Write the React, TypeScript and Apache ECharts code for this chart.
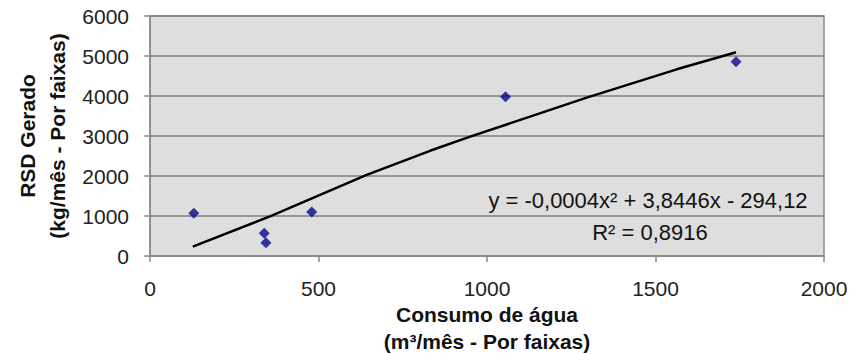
import React, { useEffect, useRef } from "react";
import * as echarts from "echarts";

const pointsX = [130, 339, 344, 480, 1055, 1739];
const pointsY = [1067, 567, 333, 1100, 3983, 4858];

const trendX = [127, 356, 643, 831, 950, 1296, 1563, 1739];
const trendY = [233, 990, 2030, 2630, 2983, 3958, 4667, 5092];

const equationText = "y = -0,0004x² + 3,8446x - 294,12";
const r2Text = "R² = 0,8916";

const xTitle = "Consumo de água\n(m³/mês - Por faixas)";
const yTitle = "RSD Gerado\n(kg/mês - Por faixas)";

const FONT = "'Liberation Sans', Arial, sans-serif";

export default function App() {
  const ref = useRef<HTMLDivElement>(null);
  useEffect(() => {
    if (!ref.current) return;
    const chart = echarts.init(ref.current, undefined, { renderer: "svg" });
    chart.setOption({
      animation: false,
      backgroundColor: "#ffffff",
      textStyle: { fontFamily: FONT },
      grid: {
        left: 150,
        right: 27,
        top: 16,
        bottom: 98,
        outerBoundsMode: "none",
        containLabel: false,
        show: true,
        backgroundColor: "#dedede",
        borderColor: "#8a8a8a",
        borderWidth: 1.5,
      },
      xAxis: {
        type: "value",
        min: 0,
        max: 2000,
        interval: 500,
        name: xTitle,
        nameLocation: "middle",
        nameGap: 45,
        nameMoveOverlap: false,
        nameTextStyle: { fontFamily: FONT, fontSize: 21, fontWeight: "bold", color: "#111", lineHeight: 27 },
        axisLine: { show: true, lineStyle: { color: "#8a8a8a", width: 1.5 } },
        axisTick: { show: true, length: 6, lineStyle: { color: "#8a8a8a", width: 1.5 } },
        axisLabel: { fontFamily: FONT, fontSize: 21, color: "#222", margin: 22, formatter: (v: number) => String(v) },
        splitLine: { show: false },
      },
      yAxis: {
        type: "value",
        min: 0,
        max: 6000,
        interval: 1000,
        name: yTitle,
        nameLocation: "middle",
        nameGap: 78,
        nameMoveOverlap: false,
        nameRotate: 90,
        nameTextStyle: { fontFamily: FONT, fontSize: 21, fontWeight: "bold", color: "#111", lineHeight: 30 },
        axisLine: { show: true, lineStyle: { color: "#8a8a8a", width: 1.5 } },
        axisTick: { show: true, length: 6, lineStyle: { color: "#8a8a8a", width: 1.5 } },
        axisLabel: { fontFamily: FONT, fontSize: 21, color: "#222", margin: 21, formatter: (v: number) => String(v) },
        splitLine: { show: true, lineStyle: { color: "#7f7f7f", width: 1.5 } },
      },
      series: [
        {
          type: "line",
          data: trendX.map((x, i) => [x, trendY[i]]),
          smooth: false,
          showSymbol: false,
          lineStyle: { color: "#000", width: 2.5 },
          z: 2,
        },
        {
          type: "scatter",
          data: pointsX.map((x, i) => [x, pointsY[i]]),
          symbol: "diamond",
          symbolSize: 11,
          itemStyle: { color: "#06068a" },
          z: 3,
        },
      ],
      graphic: [
        {
          type: "text",
          x: 648,
          y: 200,
          style: {
            text: equationText,
            fontFamily: FONT,
            fontSize: 22,
            fill: "#111",
            textAlign: "center",
            textVerticalAlign: "middle",
          },
        },
        {
          type: "text",
          x: 650,
          y: 232,
          style: {
            text: r2Text,
            fontFamily: FONT,
            fontSize: 22,
            fill: "#111",
            textAlign: "center",
            textVerticalAlign: "middle",
          },
        },
      ],
    });
    return () => chart.dispose();
  }, []);
  return <div ref={ref} style={{ width: 851, height: 354, position: "absolute", left: 0, top: 0 }} />;
}
